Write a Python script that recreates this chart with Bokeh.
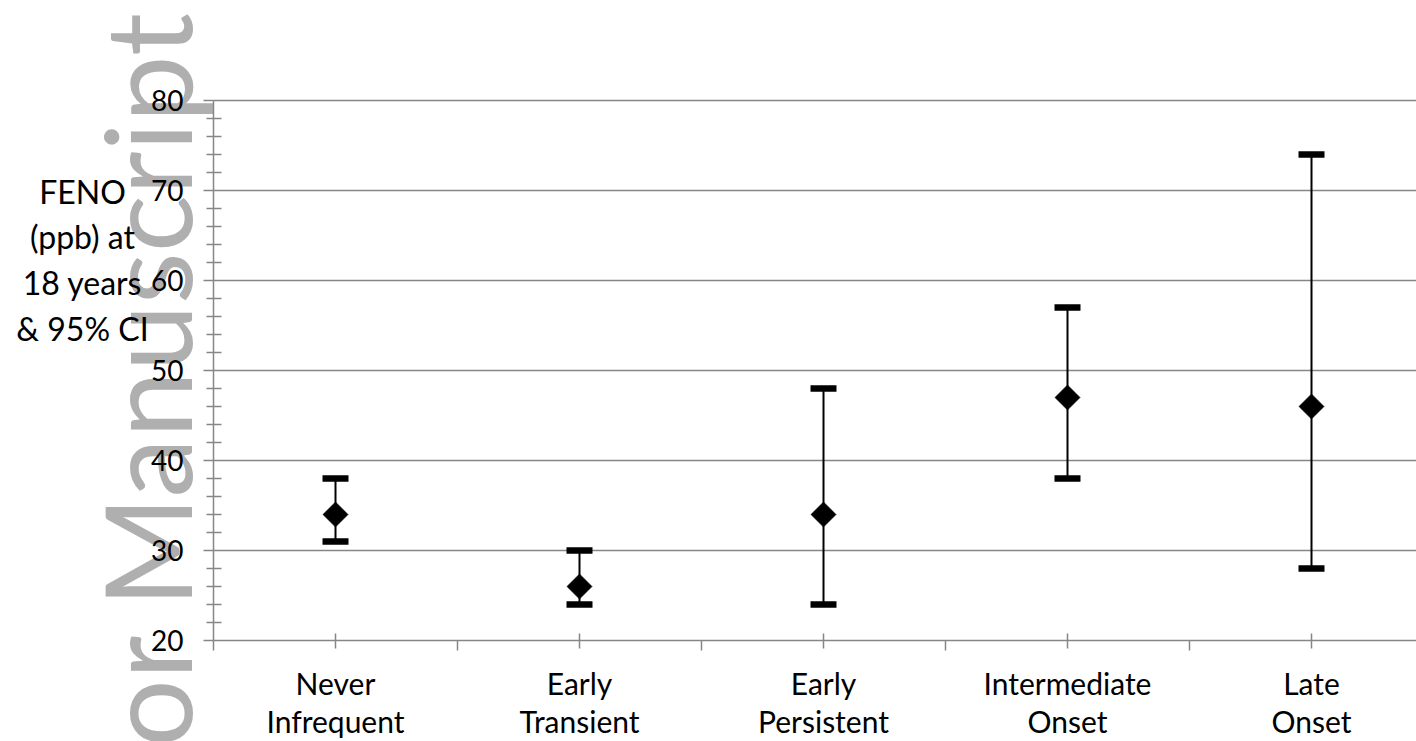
from bokeh.plotting import figure
from bokeh.models import (ColumnDataSource, FixedTicker, Whisker, TeeHead, Label, Range1d)
from bokeh.embed import file_html
from bokeh.resources import INLINE

categories = ["Never\nInfrequent", "Early\nTransient", "Early\nPersistent",
              "Intermediate\nOnset", "Late\nOnset"]
means = [34, 26, 34, 47, 46]
lower = [31, 24, 24, 38, 28]
upper = [38, 30, 48, 57, 74]
y_ticks = [20, 30, 40, 50, 60, 70, 80]
y_title = "FENO\n(ppb) at\n18 years\n& 95% CI"
watermark = "Author Manuscript"

FONT = "Lato"
GRID = "#868686"

W, H = 1416, 741
# plot area geometry (pixels) -> data ranges
LEFT_PX, TOP_PX, BOTTOM_PX = 213, 100, 640
X0, Y0, Y1 = -0.5, y_ticks[0], y_ticks[-1]
PX_PER_X = 244.0
PX_PER_Y = (BOTTOM_PX - TOP_PX) / (Y1 - Y0)
x_start = X0 - LEFT_PX / PX_PER_X
x_end = X0 + (W - LEFT_PX) / PX_PER_X
y_start = Y0 - (H - BOTTOM_PX) / PX_PER_Y
y_end = Y1 + TOP_PX / PX_PER_Y

xs = list(range(len(categories)))
src = ColumnDataSource(dict(x=xs, mean=means, lower=lower, upper=upper))

p = figure(width=W, height=H, output_backend="svg", toolbar_location=None,
           x_range=Range1d(x_start, x_end), y_range=Range1d(y_start, y_end),
           min_border=0)
p.outline_line_color = None
p.background_fill_color = "white"
p.border_fill_color = "white"
p.xgrid.visible = False
p.ygrid.visible = False

# watermark, behind everything
wm = Label(x=-0.775, y=90.0, text=watermark, angle=90, angle_units="deg",
           text_align="right", text_baseline="alphabetic",
           text_font=FONT, text_font_size="120px", text_color="#afafaf",
           level="image")
p.add_layout(wm)

# horizontal grid lines over the category area
gy = y_ticks[1:]
p.segment(x0=[X0] * len(gy), y0=gy, x1=[x_end] * len(gy), y1=gy,
          line_color=GRID, line_width=1.5, level="underlay")

# y axis
yax = p.yaxis[0]
yax.fixed_location = X0
yax.bounds = (Y0, Y1)
yax.ticker = FixedTicker(ticks=y_ticks,
                         minor_ticks=[v for v in range(Y0, Y1 + 1, 2) if v % 10])
yax.axis_line_color = GRID
yax.axis_line_width = 1.5
yax.major_tick_line_color = GRID
yax.major_tick_line_width = 1.5
yax.major_tick_in = 0
yax.major_tick_out = 10
yax.minor_tick_line_color = GRID
yax.minor_tick_line_width = 1.5
yax.minor_tick_in = 8
yax.minor_tick_out = 7
yax.major_label_text_font = FONT
yax.major_label_text_font_size = "28px"
yax.major_label_text_color = "black"
yax.major_label_standoff = 20

# x axis
xax = p.xaxis[0]
xax.fixed_location = Y0
xax.bounds = (X0, x_end)
xax.ticker = FixedTicker(ticks=xs, minor_ticks=[i - 0.5 for i in range(len(categories) + 1)])
xax.major_label_overrides = {i: c for i, c in zip(xs, categories)}
xax.axis_line_color = GRID
xax.axis_line_width = 1.5
xax.major_tick_line_color = GRID
xax.major_tick_line_width = 1.5
xax.major_tick_in = 7
xax.major_tick_out = 8
xax.minor_tick_line_color = GRID
xax.minor_tick_line_width = 1.5
xax.minor_tick_in = 0
xax.minor_tick_out = 10
xax.major_label_text_font = FONT
xax.major_label_text_font_size = "30px"
xax.major_label_text_color = "black"
xax.major_label_text_line_height = 1.08
xax.major_label_standoff = 14

# y title (horizontal, positioned high, like the source)
title = Label(x=-1.037, y=62.3, text=y_title, text_align="center",
              text_baseline="middle", text_font=FONT, text_font_size="32px",
              text_color="black", text_line_height=1.17, level="overlay")
p.add_layout(title)

# error bars
wh = Whisker(source=src, base="x", upper="upper", lower="lower", dimension="height",
             line_color="black", line_width=2, level="glyph",
             upper_head=TeeHead(size=26, line_width=6.5, line_color="black"),
             lower_head=TeeHead(size=26, line_width=6.5, line_color="black"))
p.add_layout(wh)

p.scatter("x", "mean", source=src, marker="square", angle=0.7853981634,
          size=17.5, fill_color="black", line_color="black")

open("out.html", "w").write(file_html(p, INLINE))
